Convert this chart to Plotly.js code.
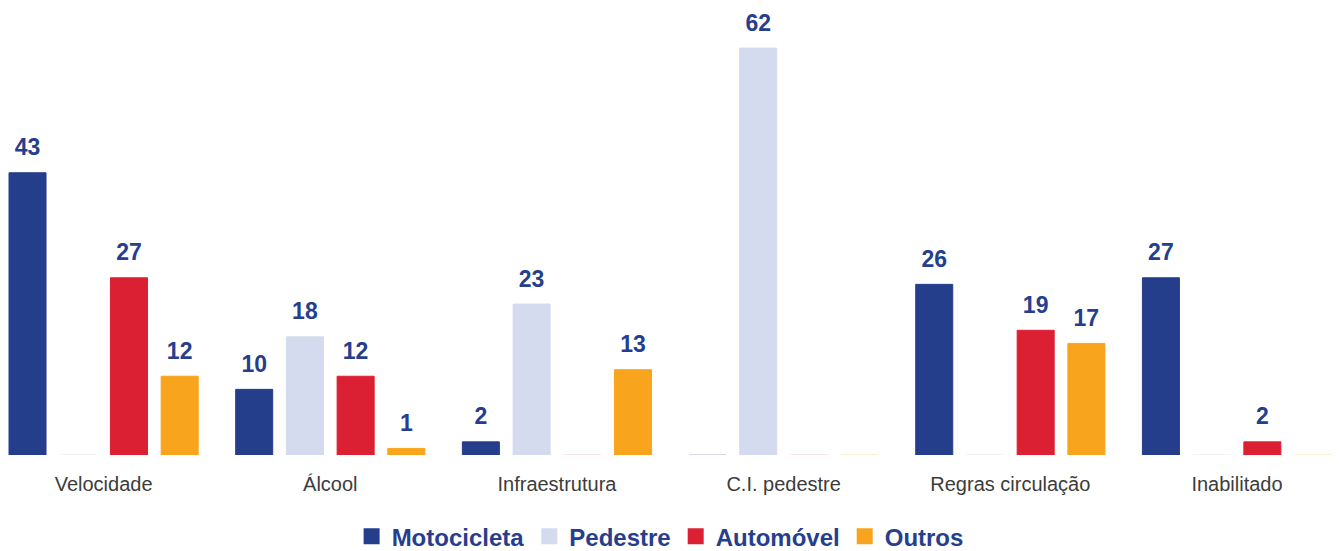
<!DOCTYPE html>
<html><head><meta charset="utf-8">
<script src="https://cdn.plot.ly/plotly-3.0.1.min.js"></script>
<style>html,body{margin:0;padding:0;background:#fff;}#chart{width:1339px;height:551px;}</style>
</head><body><div id="chart"></div>
<script>
const categories = ["Velocidade", "Álcool", "Infraestrutura", "C.I. pedestre", "Regras circulação", "Inabilitado"];
const seriesNames = ["Motocicleta", "Pedestre", "Automóvel", "Outros"];
const motocicleta = [43, 10, 2, 0, 26, 27];
const pedestre = [0, 18, 23, 62, 0, 0];
const automovel = [27, 12, 0, 0, 19, 2];
const outros = [12, 1, 13, 0, 17, 0];

const seriesValues = [motocicleta, pedestre, automovel, outros];
const colors = ["#253e8c", "#d4dbee", "#dc2033", "#f8a51d"];
const zeroTints = ["#c9cde0", "#eeeeee", "#f3dcdc", "#fbe8c9"];
const labelColor = "#263e8e";

const traces = [];
seriesValues.forEach((vals, i) => {
  traces.push({
    type: "bar", x: categories, y: vals, name: seriesNames[i],
    marker: { color: colors[i], line: { width: 1, color: vals.map(v => v === 0 ? zeroTints[i] : colors[i]) } },
    showlegend: false, hoverinfo: "x+y"
  });
});
seriesValues.forEach((vals, i) => {
  traces.push({
    type: "scatter", mode: "text+markers", x: categories, y: vals,
    alignmentgroup: "labels", offsetgroup: "s" + i,
    text: vals.map(v => v > 0 ? String(v) : ""),
    textposition: "top center",
    marker: { size: 17, opacity: 0, color: colors[i] },
    textfont: { family: "Liberation Sans, Arial, sans-serif", size: 23, color: labelColor, weight: "bold" },
    showlegend: false, hoverinfo: "skip", cliponaxis: false
  });
});
seriesNames.forEach((n, i) => {
  traces.push({
    type: "scatter", mode: "markers", x: [null], y: [null], name: n,
    xaxis: "x2", yaxis: "y2",
    marker: { symbol: "square", size: 20, color: colors[i] }, hoverinfo: "skip"
  });
});

const layout = {
  width: 1339, height: 551,
  margin: { l: 0, r: 0, t: 10, b: 96, autoexpand: false },
  paper_bgcolor: "#ffffff", plot_bgcolor: "#ffffff",
  barmode: "group", bargap: 0.105, bargroupgap: 0.27,
  scattermode: "group", scattergap: 0.105,
  xaxis: {
    type: "category", range: [-0.457, 5.45], showgrid: false, zeroline: false, showline: false,
    ticks: "", ticklabelstandoff: 15,
    tickfont: { family: "Liberation Sans, Arial, sans-serif", size: 20, color: "#3c3c3c" }
  },
  yaxis: { range: [0, 67.8], visible: false, showgrid: false, zeroline: false, fixedrange: true },
  xaxis2: { visible: false, overlaying: "x" },
  yaxis2: { visible: false, overlaying: "y" },
  showlegend: true,
  legend: {
    orientation: "h", x: 0.493, xanchor: "center", yref: "container", y: 0.026, yanchor: "middle",
    font: { family: "Liberation Sans, Arial, sans-serif", size: 24, color: labelColor, weight: "bold" },
    itemwidth: 30, tracegroupgap: 0, itemclick: false
  }
};
Plotly.newPlot("chart", traces, layout, { displayModeBar: false, staticPlot: true });
</script></body></html>
